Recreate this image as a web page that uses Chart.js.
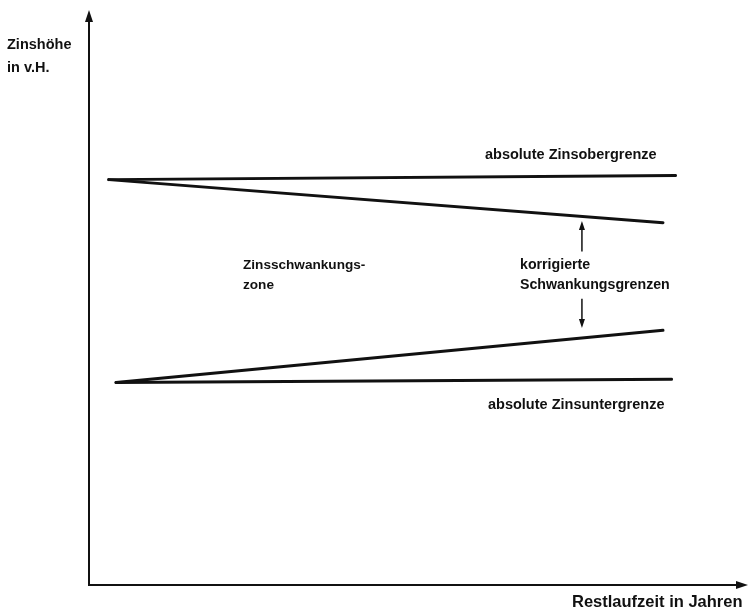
<!DOCTYPE html>
<html>
<head>
<meta charset="utf-8">
<script src="https://cdn.jsdelivr.net/npm/chart.js@4/dist/chart.umd.min.js"></script>
<style>
  html, body { margin: 0; padding: 0; background: #fff; }
  #wrap { width: 749px; height: 613px; }
</style>
</head>
<body>
<div id="wrap"><canvas id="zinsChart" width="749" height="613"></canvas></div>
<script>
// ── Data (schematic units 0..100 on both axes) ──
const upperAbsolute  = [{ x: 3, y: 70.5 }, { x: 89.0, y: 71.2 }];
const upperCorrected = [{ x: 3, y: 70.5 }, { x: 87.1, y: 63.0 }];
const lowerCorrected = [{ x: 4.1, y: 35.2 }, { x: 87.1, y: 44.3 }];
const lowerAbsolute  = [{ x: 4.1, y: 35.2 }, { x: 88.4, y: 35.8 }];
const arrowUp   = [{ x: 74.8, y: 58.0 }, { x: 74.8, y: 63.3 }];
const arrowDown = [{ x: 74.8, y: 49.8 }, { x: 74.8, y: 44.7 }];

const FONT = '"Liberation Sans", Arial, sans-serif';

function arrowHead(c, x, y, dir, len, half) {
    c.beginPath();
    if (dir === 'up')    { c.moveTo(x, y); c.lineTo(x - half, y + len); c.lineTo(x + half, y + len); }
    if (dir === 'down')  { c.moveTo(x, y); c.lineTo(x - half, y - len); c.lineTo(x + half, y - len); }
    if (dir === 'right') { c.moveTo(x, y); c.lineTo(x - len, y - half); c.lineTo(x - len, y + half); }
    c.closePath();
    c.fill();
}

function label(c, text, x, y, size) {
    c.font = '600 ' + size + 'px ' + FONT;
    c.fillText(text, x, y);
}

// ── Axes, arrows and texts ──
const sketchPlugin = {
    id: 'sketch',
    afterDatasetsDraw(chart) {
        const c = chart.ctx;
        const a = chart.chartArea;
        const xs = chart.scales.x, ys = chart.scales.y;
        c.save();
        c.strokeStyle = '#111';
        c.fillStyle = '#111';
        c.lineWidth = 2;

        // axes
        c.beginPath();
        c.moveTo(a.left, a.top + 4);
        c.lineTo(a.left, a.bottom);
        c.lineTo(a.right - 4, a.bottom);
        c.stroke();
        arrowHead(c, a.left, a.top, 'up', 12, 4);
        arrowHead(c, a.right, a.bottom, 'right', 12, 4);

        // small arrows pointing to corrected limits
        c.lineWidth = 1.5;
        [[arrowUp, 'up'], [arrowDown, 'down']].forEach(([pts, dir]) => {
            const x = xs.getPixelForValue(pts[0].x);
            const y0 = ys.getPixelForValue(pts[0].y);
            const y1 = ys.getPixelForValue(pts[1].y);
            c.beginPath();
            c.moveTo(x, y0);
            c.lineTo(x, dir === 'up' ? y1 + 6 : y1 - 6);
            c.stroke();
            arrowHead(c, x, y1, dir, 9, 3);
        });

        // texts
        c.textBaseline = 'middle';
        c.textAlign = 'left';
        label(c, 'Zinshöhe', 7, 45, 14.5);
        label(c, 'in v.H.', 7, 68, 14.5);
        label(c, 'absolute Zinsobergrenze', 485, 155, 14.5);
        label(c, 'korrigierte', 520, 265, 14.2);
        label(c, 'Schwankungsgrenzen', 520, 285, 14.2);
        label(c, 'absolute Zinsuntergrenze', 488, 405, 14.5);
        label(c, 'Zinsschwankungs-', 243, 265, 13.6);
        label(c, 'zone', 243, 285, 13.6);
        label(c, 'Restlaufzeit in Jahren', 572, 602, 16.5);
        c.restore();
    }
};

function line(data) {
    return {
        data: data,
        showLine: true,
        borderColor: '#111',
        borderWidth: 3,
        pointRadius: 0,
        borderCapStyle: 'round',
        fill: false
    };
}

const ctx = document.getElementById('zinsChart').getContext('2d');
new Chart(ctx, {
    type: 'scatter',
    data: {
        datasets: [
            line(upperAbsolute),
            line(upperCorrected),
            line(lowerCorrected),
            line(lowerAbsolute)
        ]
    },
    options: {
        responsive: false,
        animation: false,
        layout: { padding: { left: 89, right: 1, top: 10, bottom: 28 } },
        plugins: {
            legend: { display: false },
            tooltip: { enabled: false }
        },
        scales: {
            x: { type: 'linear', min: 0, max: 100, display: false },
            y: { type: 'linear', min: 0, max: 100, display: false }
        }
    },
    plugins: [sketchPlugin]
});
</script>
</body>
</html>
